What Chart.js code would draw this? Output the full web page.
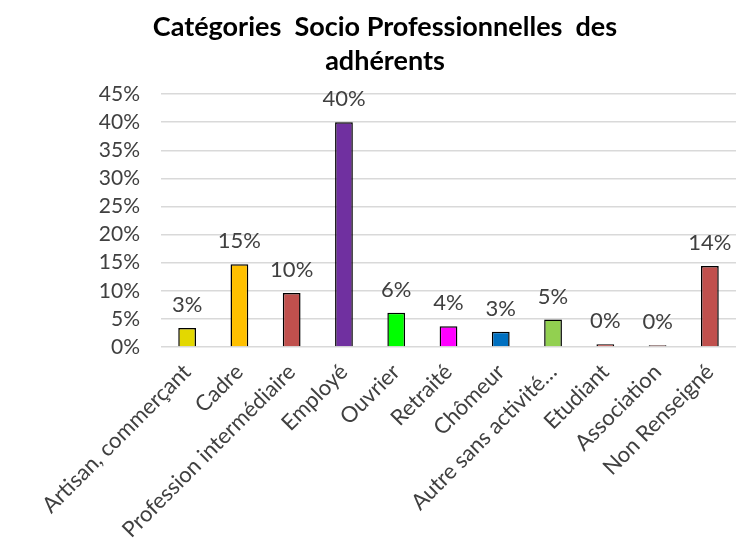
<!DOCTYPE html>
<html>
<head>
<meta charset="utf-8">
<script src="https://cdn.jsdelivr.net/npm/chart.js@4.4.1/dist/chart.umd.min.js"></script>
<style>
  html, body { margin: 0; padding: 0; background: #fff; }
  #wrap { width: 741px; height: 554px; position: relative; }
</style>
</head>
<body>
<div id="wrap"><canvas id="chart"></canvas></div>
<script>
// categories and values (percent)
const categories = [
  "Artisan, commerçant", "Cadre", "Profession intermédiaire", "Employé",
  "Ouvrier", "Retraité", "Chômeur", "Autre sans activité…",
  "Etudiant", "Association", "Non Renseigné"
];
const shares = [3.4, 14.7, 9.6, 40.0, 6.1, 3.7, 2.7, 4.9, 0.49, 0.3, 14.4];
const barColors = [
  "#e3d800", "#ffc000", "#c0504d", "#7030a0", "#00ff00", "#ff00ff",
  "#0070c0", "#92d050", "#c0504d", "#c0504d", "#c0504d"
];
const yTicks = [0, 5, 10, 15, 20, 25, 30, 35, 40, 45];

const FONT = "Lato";

// draws the rounded percent above each bar
const valueLabels = {
  id: 'valueLabels',
  afterDatasetsDraw(chart) {
    const ctx = chart.ctx;
    const meta = chart.getDatasetMeta(0);
    ctx.save();
    ctx.font = "22px " + FONT;
    ctx.fillStyle = "#404040";
    ctx.textAlign = "center";
    ctx.textBaseline = "middle";
    meta.data.forEach((bar, i) => {
      ctx.fillText(Math.round(shares[i]) + "%", bar.x, bar.y - 23);
    });
    ctx.restore();
  }
};

new Chart(document.getElementById('chart'), {
  type: 'bar',
  data: {
    labels: categories,
    datasets: [{
      data: shares,
      backgroundColor: barColors,
      borderColor: "#000",
      borderWidth: 1.5,
      barPercentage: 0.34,
      categoryPercentage: 1
    }]
  },
  options: {
    responsive: true,
    maintainAspectRatio: false,
    animation: false,
    layout: { padding: { left: 34, right: 5, top: 0, bottom: 0 } },
    plugins: {
      legend: { display: false },
      tooltip: { enabled: false },
      title: {
        display: true,
        text: ["Catégories  Socio Professionnelles  des", "adhérents"],
        color: "#000",
        font: { family: FONT, size: 27, weight: 'bold', lineHeight: 1.26 },
        padding: { top: 10, bottom: 16 }
      }
    },
    scales: {
      x: {
        grid: { display: false },
        border: { display: false },
        ticks: {
          color: "#404040",
          font: { family: FONT, size: 22 },
          minRotation: 45,
          maxRotation: 45,
          autoSkip: false,
          padding: 4
        },
        afterFit(axis) {
          axis.height = 207;
          axis.paddingLeft = 0;
          axis.paddingRight = 0;
        }
      },
      y: {
        min: 0,
        max: 45,
        afterBuildTicks(axis) {
          axis.ticks = yTicks.map(v => ({ value: v }));
        },
        grid: { color: "#d9d9d9", lineWidth: 1.5, drawTicks: false },
        border: { display: false },
        ticks: {
          color: "#404040",
          font: { family: FONT, size: 21 },
          padding: 21,
          autoSkip: false,
          callback: v => v + "%"
        },
        afterFit(axis) {
          axis.width = 127;
        }
      }
    }
  },
  plugins: [valueLabels]
});
</script>
</body>
</html>
